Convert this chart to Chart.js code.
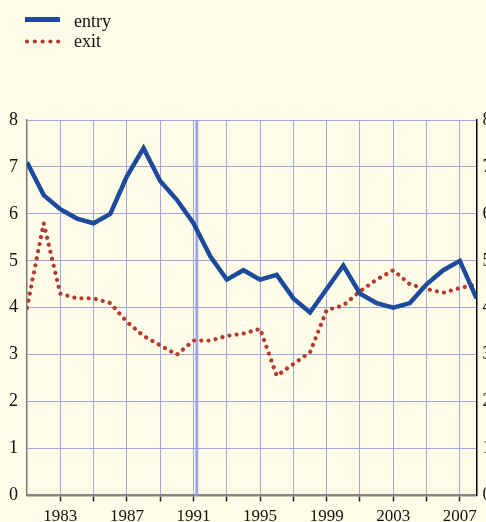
<!DOCTYPE html>
<html>
<head>
<meta charset="utf-8">
<script src="https://cdn.jsdelivr.net/npm/chart.js@4/dist/chart.umd.min.js"></script>
<style>
  html, body { margin: 0; padding: 0; background: #fffde8; overflow: hidden; width: 486px; height: 522px; }
  #wrap { position: absolute; left: 0; top: 0; width: 512px; height: 522px; }
</style>
</head>
<body>
<div id="wrap"><canvas id="c" width="512" height="522"></canvas></div>
<script>
const years = [1981,1982,1983,1984,1985,1986,1987,1988,1989,1990,1991,1992,1993,1994,1995,1996,1997,1998,1999,2000,2001,2002,2003,2004,2005,2006,2007,2008];
const entry = [7.1,6.4,6.1,5.9,5.8,6.0,6.8,7.4,6.7,6.3,5.8,5.1,4.6,4.8,4.6,4.7,4.2,3.9,4.4,4.9,4.3,4.1,4.0,4.1,4.5,4.8,5.0,4.2];
const exitRate = [4.0,5.8,4.3,4.2,4.2,4.1,3.7,3.4,3.2,3.0,3.3,3.3,3.4,3.45,3.55,2.55,2.8,3.05,3.95,4.05,4.35,4.6,4.8,4.5,4.4,4.32,4.42,4.5];
const xGridYears = [1983,1985,1987,1989,1991,1993,1995,1997,1999,2001,2003,2005,2007];
const xLabelYears = [1983,1987,1991,1995,1999,2003,2007];
const yTicks = [0,1,2,3,4,5,6,7,8];
const markerYear = 1991.2;
const seriesNames = ['entry','exit'];

const BLUE = '#1d4a9b';
const RED = '#b53a30';
const GRID = '#a2a7e4';
const FAMILY = '"Liberation Serif", "Times New Roman", serif';
const FONT = { family: FAMILY, size: 18 };

const legendPlugin = {
  id: 'customLegend',
  afterDraw(chart) {
    const ctx = chart.ctx;
    ctx.save();
    ctx.lineCap = 'butt';
    ctx.strokeStyle = BLUE;
    ctx.lineWidth = 5;
    ctx.beginPath(); ctx.moveTo(25, 19.5); ctx.lineTo(60, 19.5); ctx.stroke();
    ctx.fillStyle = RED;
    for (let i = 0; i < 5; i++) {
      ctx.beginPath(); ctx.arc(27 + i * 7.8, 41.5, 2.1, 0, Math.PI * 2); ctx.fill();
    }
    ctx.fillStyle = '#111';
    ctx.font = '18px ' + FAMILY;
    ctx.textBaseline = 'alphabetic';
    ctx.fillText(seriesNames[0], 74, 27);
    ctx.fillText(seriesNames[1], 74, 47);
    ctx.restore();
  }
};

const markerPlugin = {
  id: 'marker',
  beforeDatasetsDraw(chart) {
    const { ctx, chartArea, scales } = chart;
    const x = scales.x.getPixelForValue(markerYear);
    ctx.save();
    ctx.strokeStyle = GRID;
    ctx.lineWidth = 3;
    ctx.beginPath(); ctx.moveTo(x, chartArea.top); ctx.lineTo(x, chartArea.bottom); ctx.stroke();
    ctx.restore();
  }
};

new Chart(document.getElementById('c'), {
  type: 'line',
  data: {
    datasets: [
      {
        label: seriesNames[0],
        data: years.map((y, i) => ({ x: y, y: entry[i] })),
        borderColor: BLUE, borderWidth: 4.5, pointRadius: 0, tension: 0,
        borderJoinStyle: 'miter', yAxisID: 'y'
      },
      {
        label: seriesNames[1],
        data: years.map((y, i) => ({ x: y, y: exitRate[i] })),
        borderColor: RED, borderWidth: 4.2, pointRadius: 0, tension: 0,
        borderDash: [0.01, 7.2], borderCapStyle: 'round', yAxisID: 'y'
      }
    ]
  },
  options: {
    responsive: false,
    animation: false,
    devicePixelRatio: 1,
    layout: { padding: { top: 120, left: 0, right: 0, bottom: 0 } },
    plugins: { legend: { display: false }, tooltip: { enabled: false } },
    scales: {
      x: {
        type: 'linear', min: 1981, max: 2008,
        afterBuildTicks: s => { s.ticks = xGridYears.map(v => ({ value: v })); },
        afterFit: s => { s.height = 26.5; },
        ticks: {
          autoSkip: false, maxRotation: 0, padding: 5, color: '#111', font: { family: FAMILY, size: 17 },
          callback: v => xLabelYears.includes(v) ? String(v) : ''
        },
        grid: { color: GRID, lineWidth: 1, drawTicks: true, tickLength: 6, tickColor: '#222', tickWidth: 1.5 },
        border: { color: '#858585', width: 2.5 }
      },
      y: {
        position: 'left', min: 0, max: 8,
        afterBuildTicks: s => { s.ticks = yTicks.map(v => ({ value: v })); },
        afterFit: s => { s.width = 27; },
        ticks: { padding: 9, color: '#111', font: FONT },
        grid: { color: GRID, lineWidth: 1, drawTicks: false },
        border: { color: '#7a7a7a', width: 1.5 }
      },
      y1: {
        position: 'right', min: 0, max: 8,
        afterBuildTicks: s => { s.ticks = yTicks.map(v => ({ value: v })); },
        afterFit: s => { s.width = 512 - 476.5; },
        ticks: { padding: 6, color: '#111', font: FONT },
        grid: { drawOnChartArea: false, drawTicks: false },
        border: { color: '#000', width: 1.5 }
      }
    }
  },
  plugins: [markerPlugin, legendPlugin]
});
</script>
</body>
</html>
